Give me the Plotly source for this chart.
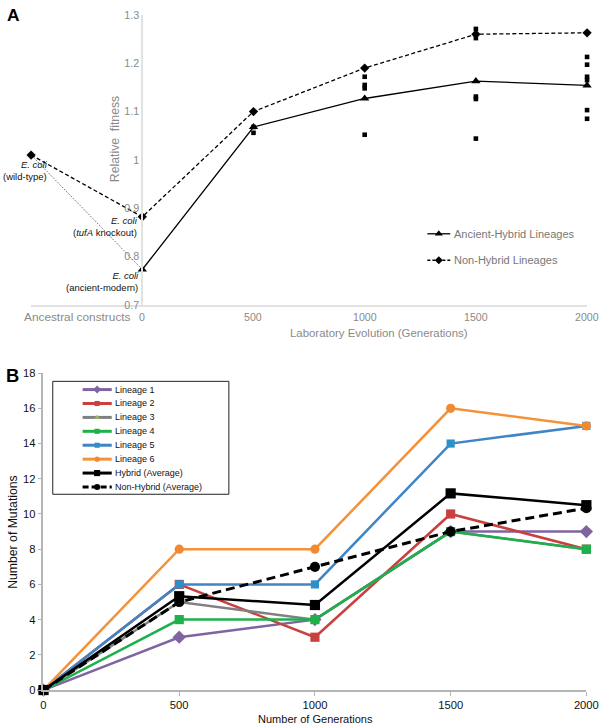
import plotly.graph_objects as go

# ---------------- Panel A data ----------------
gens_A = [0, 500, 1000, 1500, 2000]
hybrid_fit = [0.773, 1.068, 1.127, 1.163, 1.154]
nonhybrid_fit = [0.882, 1.100, 1.190, 1.260, 1.263]
wildtype_fit = 1.01
lineage_pts_gen = [500, 500, 1000, 1000, 1000, 1000, 1500, 1500, 1500, 1500, 1500,
                   2000, 2000, 2000, 2000, 2000, 2000]
lineage_pts_fit = [1.068, 1.056, 1.172, 1.155, 1.148, 1.052, 1.271, 1.252, 1.131, 1.126, 1.044,
                   1.213, 1.197, 1.172, 1.165, 1.103, 1.085]
ticks_A_y = [0.7, 0.8, 0.9, 1.0, 1.1, 1.2, 1.3]
ticks_A_y_text = ["0.7", "0.8", "0.9", "1", "1.1", "1.2", "1.3"]
ticks_A_x_text = ["Ancestral constructs", "0", "500", "1000", "1500", "2000"]
legend_A_names = ["Ancient-Hybrid Lineages", "Non-Hybrid Lineages"]

# ---------------- Panel B data ----------------
gens_B = [0, 500, 1000, 1500, 2000]
lineage1 = [0, 3, 4, 9, 9]
lineage2 = [0, 6, 3, 10, 8]
lineage3 = [0, 5, 4, 9, 8]
lineage4 = [0, 4, 4, 9, 8]
lineage5 = [0, 6, 6, 14, 15]
lineage6 = [0, 8, 8, 16, 15]
hybrid_avg = [0, 5.33, 4.83, 11.17, 10.5]
nonhybrid_avg = [0, 5, 7, 9, 10.33]
names_B = ["Lineage 1", "Lineage 2", "Lineage 3", "Lineage 4", "Lineage 5", "Lineage 6",
           "Hybrid (Average)", "Non-Hybrid (Average)"]

# ---------------- layout helpers ----------------
REF_W, REF_H = 600, 727          # reference picture size (all px positions below are in it)
W, H = 612, 732                  # figure size (the page photo shrinks it slightly)
K = W / REF_W                    # size factor for fonts / markers
FONT = "Liberation Sans, Arial, Helvetica, sans-serif"
def fx(px): return px / REF_W
def fy(py): return 1 - py / REF_H
def fs(s): return round(s * K, 2)

ANC_POS = -500        # x position of the ancestral constructs column
ANC_LABEL_POS = -292  # where its tick label sits
GRAY_TXT = "#8a8a8a"
AX_A = "#e2e2e2"

fig = go.Figure()

# ---------- Panel A traces ----------
fig.add_trace(go.Scatter(x=[ANC_POS, gens_A[0]], y=[wildtype_fit, hybrid_fit[0]], mode="lines",
                         line=dict(color="#444", width=1, dash="1px,1.5px"),
                         xaxis="x", yaxis="y", showlegend=False, cliponaxis=False))
fig.add_trace(go.Scatter(x=lineage_pts_gen, y=lineage_pts_fit, mode="markers",
                         marker=dict(symbol="square", size=fs(4.5), color="black"),
                         xaxis="x", yaxis="y", showlegend=False, cliponaxis=False))
fig.add_trace(go.Scatter(x=gens_A, y=hybrid_fit, mode="lines+markers",
                         line=dict(color="black", width=1.3),
                         marker=dict(symbol="triangle-up", size=fs(8), color="black"),
                         xaxis="x", yaxis="y", showlegend=False, cliponaxis=False))
fig.add_trace(go.Scatter(x=[ANC_POS] + gens_A, y=[wildtype_fit] + nonhybrid_fit, mode="lines+markers",
                         line=dict(color="black", width=1.3, dash="4px,2.5px"),
                         marker=dict(symbol="diamond", size=fs(7), color="black"),
                         xaxis="x", yaxis="y", showlegend=False, cliponaxis=False))

# ---------- Panel B traces ----------
series_B = [
    (lineage1, "#8064A2", "#8064A2", "diamond", 10, "solid", 2.5),
    (lineage2, "#C8413E", "#C8413E", "square", 9, "solid", 2.5),
    (lineage3, "#808080", "#9BBB59", "triangle-up", 9, "solid", 2.5),
    (lineage4, "#1DB04B", "#1DB04B", "square", 9, "solid", 2.5),
    (lineage5, "#3F85C6", "#2E90C8", "square", 8, "solid", 2.5),
    (lineage6, "#F59138", "#F08A32", "circle", 9, "solid", 2.5),
    (hybrid_avg, "black", "black", "square", 10, "solid", 2.5),
    (nonhybrid_avg, "black", "black", "circle", 10, "9px,5px", 3),
]
for (vals, lc, mc, sym, ms, dash, lw) in series_B:
    fig.add_trace(go.Scatter(x=gens_B, y=vals, mode="lines+markers",
                             line=dict(color=lc, width=lw, dash=dash),
                             marker=dict(symbol=sym, size=fs(ms), color=mc),
                             xaxis="x2", yaxis="y2", showlegend=False, cliponaxis=False))

# ---------- legends drawn on an overlay axis in reference-pixel units ----------
annotations = []
LB_X0, LB_Y0, LB_X1, LB_Y1 = 50, 379, 227, 493
LB_ROW0, LB_STEP = 387.3, 14.05
for i, (name, s) in enumerate(zip(names_B, series_B)):
    vals, lc, mc, sym, ms, dash, lw = s
    yy = LB_ROW0 + i * LB_STEP
    fig.add_trace(go.Scatter(x=[80, 109.3], y=[yy, yy], mode="lines",
                             line=dict(color=lc, width=3, dash="6px,3px" if dash != "solid" else "solid"),
                             xaxis="x3", yaxis="y3", showlegend=False, hoverinfo="skip"))
    fig.add_trace(go.Scatter(x=[94.6], y=[yy], mode="markers",
                             marker=dict(symbol=sym, size=fs(max(ms - 4, 5)), color=mc),
                             xaxis="x3", yaxis="y3", showlegend=False, hoverinfo="skip"))
    annotations.append(dict(x=111, y=yy, xref="x3", yref="y3", text=name, showarrow=False,
                            xanchor="left", yanchor="middle",
                            font=dict(family=FONT, size=fs(8.8), color="#111")))
LA_ROWS = [230, 256.7]
legend_A_styles = [("solid", "triangle-up", 7), ("3px,2px", "diamond", 6)]
for name, yy, (dash, sym, ms) in zip(legend_A_names, LA_ROWS, legend_A_styles):
    fig.add_trace(go.Scatter(x=[426.5, 449.5], y=[yy, yy], mode="lines",
                             line=dict(color="black", width=1.3, dash=dash),
                             xaxis="x3", yaxis="y3", showlegend=False, hoverinfo="skip"))
    fig.add_trace(go.Scatter(x=[438], y=[yy], mode="markers",
                             marker=dict(symbol=sym, size=fs(ms), color="black"),
                             xaxis="x3", yaxis="y3", showlegend=False, hoverinfo="skip"))
    annotations.append(dict(x=451, y=yy, xref="x3", yref="y3", text=name, showarrow=False,
                            xanchor="left", yanchor="middle",
                            font=dict(family=FONT, size=fs(10.8), color="#777")))

shapes = [dict(type="rect", xref="x3", yref="y3", x0=LB_X0, x1=LB_X1, y0=LB_Y0, y1=LB_Y1,
               line=dict(color="#222", width=1), fillcolor="rgba(0,0,0,0)", layer="below")]

def ann_px(x, y, text, size, color="#111", xanchor="center", yanchor="middle", align="center",
           textangle=0, family=FONT):
    annotations.append(dict(x=fx(x), y=fy(y), xref="paper", yref="paper", text=text,
                            showarrow=False, xanchor=xanchor, yanchor=yanchor, align=align,
                            textangle=textangle, font=dict(family=family, size=fs(size), color=color)))

ann_px(2, 9, "<b>A</b>", 17, "#000", xanchor="left")
ann_px(1, 373, "<b>B</b>", 18, "#000", xanchor="left")
ann_px(112, 134, "Relative  fitness", 12, GRAY_TXT, textangle=-90)
ann_px(378, 330, "Laboratory Evolution (Generations)", 11.2, GRAY_TXT)
ann_px(47, 166.5, "<i>E. coli</i><br>(wild-type)", 9.3, "#111", xanchor="right", align="right")
ann_px(137.5, 223, "<i>E. coli</i><br>(<i>tufA</i> knockout)", 9.3, "#111", xanchor="right", align="right")
ann_px(138.5, 278.5, "<i>E. coli</i><br>(ancient-modern)", 9.3, "#111", xanchor="right", align="right")
ann_px(314, 720, "Number of Generations", 10.8, "#111")
ann_px(10, 531, "Number of Mutations", 12, "#111", textangle=-90)

for tv, tt in zip([ANC_LABEL_POS] + gens_A, ticks_A_x_text):
    annotations.append(dict(x=tv, y=fy(314), xref="x", yref="paper", text=tt, showarrow=False,
                            xanchor="center", yanchor="middle",
                            font=dict(family=FONT, size=fs(11.6 if tv == ANC_LABEL_POS else 10.4),
                                      color=GRAY_TXT)))

x0A, x1A = 140 - 500 * (447 / 2000), 587
fig.update_layout(
    width=W, height=H, autosize=False, margin=dict(l=0, r=0, t=0, b=0, pad=0),
    paper_bgcolor="white", plot_bgcolor="rgba(0,0,0,0)",
    font=dict(family=FONT),
    xaxis=dict(domain=[fx(x0A), fx(x1A)], range=[ANC_POS, 2000], anchor="y",
               showline=True, linecolor=AX_A, linewidth=2, showgrid=False, zeroline=False,
               showticklabels=False, ticks=""),
    yaxis=dict(domain=[fy(301.7), fy(9)], range=[0.7, 1.3], anchor="free", position=fx(140),
               showline=True, linecolor=AX_A, linewidth=2, showgrid=False, zeroline=False,
               tickvals=ticks_A_y, ticktext=ticks_A_y_text, ticks="",
               tickfont=dict(family=FONT, size=fs(10.5), color=GRAY_TXT)),
    xaxis2=dict(domain=[fx(40.7), fx(586.3)], range=[0, 2000], anchor="y2",
                showline=True, linecolor="#b5b5b5", linewidth=1.5, showgrid=False, zeroline=False,
                tickvals=gens_B, ticks="outside", ticklen=4, tickcolor="#b5b5b5", tickwidth=1.2,
                tickfont=dict(family=FONT, size=fs(11), color="#111")),
    yaxis2=dict(domain=[fy(690.7), fy(370.7)], range=[0, 18], anchor="x2", dtick=2,
                showline=True, linecolor="#b5b5b5", linewidth=1.5, showgrid=False, zeroline=False,
                ticks="outside", ticklen=4, tickcolor="#b5b5b5", tickwidth=1.2,
                tickfont=dict(family=FONT, size=fs(11), color="#111")),
    xaxis3=dict(domain=[0, 1], range=[0, REF_W], anchor="y3", visible=False, fixedrange=True),
    yaxis3=dict(domain=[0, 1], range=[REF_H, 0], anchor="x3", visible=False, fixedrange=True),
    annotations=annotations, shapes=shapes, showlegend=False,
)

fig.write_html(
    "out.html",
    config={"displayModeBar": False, "responsive": False},
    post_script=("document.documentElement.style.margin='0px';"
                 "document.documentElement.style.padding='0px';"
                 "document.documentElement.style.overflow='hidden';"
                 "document.body.style.margin='0px';document.body.style.padding='0px';"
                 "document.body.style.overflow='hidden';"),
)
